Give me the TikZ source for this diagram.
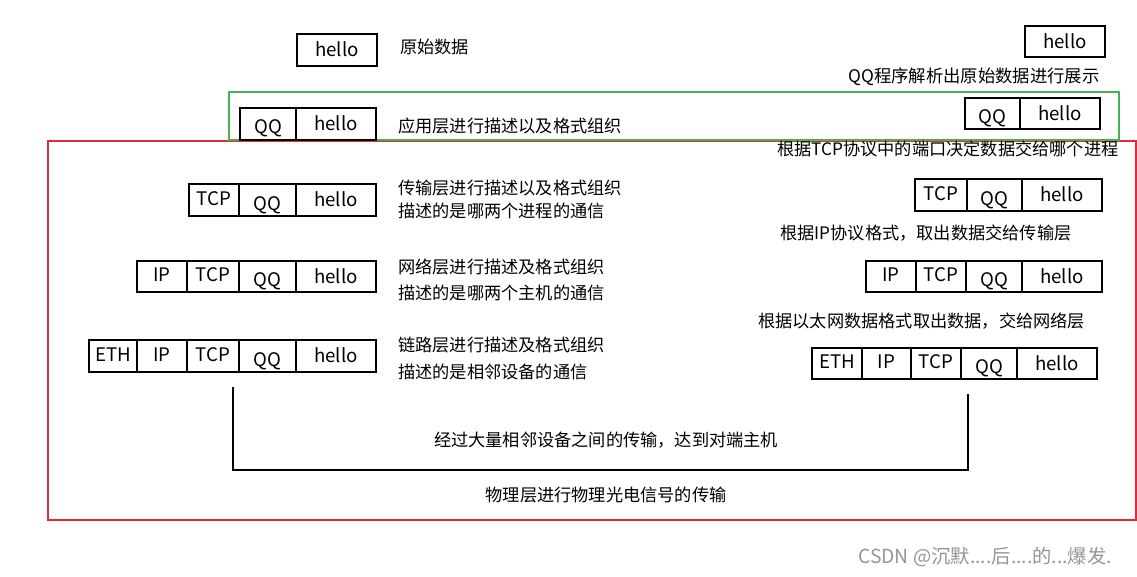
\documentclass[tikz,border=0pt]{standalone}
\usepackage{fontspec}
\setmainfont{Noto Sans CJK SC}
\definecolor{redline}{RGB}{222,45,58}
\definecolor{greenline}{RGB}{70,178,80}
\definecolor{wmgray}{RGB}{150,150,150}
\begin{document}
\begin{tikzpicture}[x=0.75pt,y=-0.75pt,
  seg/.style={draw, line width=1.4pt, minimum width=#1*0.75pt, minimum height=24pt,
    inner sep=0pt, outer sep=0pt, text height=10.5pt, text depth=0.5pt,
    font=\fontsize{14}{16}\selectfont},
  txt/.style={anchor=west, inner sep=0pt, font=\fontsize{12.9}{15}\selectfont},
  ctxt/.style={inner sep=0pt, font=\fontsize{12.9}{15}\selectfont},
  frame/.style={line width=1.5pt}]
\useasboundingbox (0,0) rectangle (1137,577);
\fill[white] (0,0) rectangle (1137,577);
\newcommand{\lowQ}{\raisebox{-2.5pt}{QQ}}
\newcommand{\upT}[1]{\raisebox{1pt}{#1}}

% frames
\draw[frame, redline] (48,141) rectangle (1136,520);
\draw[frame, greenline] (229,92) rectangle (1119,140);

% ---- left side (sender) ----
\node[seg=80] (l0h) at (337,50) {hello};
\node[txt] (t0) at (400,47) {原始数据};

\node[seg=56] (l1q) at (268,124) {\lowQ};
\node[seg=80] (l1h) at (336,124) {hello};
\node[txt] (t1) at (398,126) {应用层进行描述以及格式组织};

\node[seg=50] (l2t) at (214,200) {\upT{TCP}};
\node[seg=57] (l2q) at (267.5,200) {\lowQ};
\node[seg=80] (l2h) at (336,200) {hello};
\node[txt] (t2a) at (398,188) {传输层进行描述以及格式组织};
\node[txt] (t2b) at (398,211) {描述的是哪两个进程的通信};

\node[seg=50, minimum height=23.25pt] (l3i) at (162,276.5) {\upT{IP}};
\node[seg=52, minimum height=23.25pt] (l3t) at (213,276.5) {\upT{TCP}};
\node[seg=57, minimum height=23.25pt] (l3q) at (267.5,276.5) {\lowQ};
\node[seg=80, minimum height=23.25pt] (l3h) at (336,276.5) {hello};
\node[txt] (t3a) at (398,267) {网络层进行描述及格式组织};
\node[txt] (t3b) at (398,293) {描述的是哪两个主机的通信};

\node[seg=48] (l4e) at (113,356) {\upT{ETH}};
\node[seg=50] (l4i) at (162,356) {\upT{IP}};
\node[seg=52] (l4t) at (213,356) {\upT{TCP}};
\node[seg=57] (l4q) at (267.5,356) {\lowQ};
\node[seg=80] (l4h) at (336,356) {hello};
\node[txt] (t4a) at (398,345) {链路层进行描述及格式组织};
\node[txt] (t4b) at (398,372) {描述的是相邻设备的通信};

% ---- right side (receiver) ----
\node[seg=80, minimum height=23.25pt] (r0h) at (1065,41.5) {hello};
\node[txt, font=\fontsize{13}{16}\selectfont] (s0) at (848,77) {QQ程序解析出原始数据进行展示};

\node[seg=55, minimum height=23.25pt] (r1q) at (992.5,113.5) {\lowQ};
\node[seg=80, minimum height=23.25pt] (r1h) at (1060,113.5) {hello};
\node[txt, font=\fontsize{12.9}{16}\selectfont] (s1) at (777,149) {根据TCP协议中的端口决定数据交给哪个进程};

\node[seg=52] (r2t) at (941,195) {\upT{TCP}};
\node[seg=55] (r2q) at (994.5,195) {\lowQ};
\node[seg=80] (r2h) at (1062,195) {hello};
\node[txt] (s2) at (780,233) {根据IP协议格式，取出数据交给传输层};

\node[seg=50, minimum height=23.25pt] (r3i) at (891,276.5) {\upT{IP}};
\node[seg=50, minimum height=23.25pt] (r3t) at (941,276.5) {\upT{TCP}};
\node[seg=56, minimum height=23.25pt] (r3q) at (994,276.5) {\lowQ};
\node[seg=80, minimum height=23.25pt] (r3h) at (1062,276.5) {hello};
\node[txt] (s3) at (758,321) {根据以太网数据格式取出数据，交给网络层};

\node[seg=50, minimum height=23.25pt] (r4e) at (837,363.5) {\upT{ETH}};
\node[seg=49, minimum height=23.25pt] (r4i) at (886.5,363.5) {\upT{IP}};
\node[seg=50, minimum height=23.25pt] (r4t) at (936,363.5) {\upT{TCP}};
\node[seg=56, minimum height=23.25pt] (r4q) at (989,363.5) {\lowQ};
\node[seg=80, minimum height=23.25pt] (r4h) at (1057,363.5) {hello};

% ---- physical transfer bracket ----
\coordinate (bl) at (233,387);
\coordinate (blb) at (233,470);
\coordinate (brb) at (968,470);
\coordinate (br) at (968,394);
\draw[line width=1.6pt] (bl) -- (blb) -- (brb) -- (br);
\node[ctxt] (p1) at (606,440) {经过大量相邻设备之间的传输，达到对端主机};
\node[ctxt] (p2) at (606,495) {物理层进行物理光电信号的传输};

% watermark
\node[txt, text=wmgray, font=\fontsize{14.5}{16}\selectfont] (wm) at (858,557) {CSDN @沉默....后....的...爆发.};
\end{tikzpicture}
\end{document}
